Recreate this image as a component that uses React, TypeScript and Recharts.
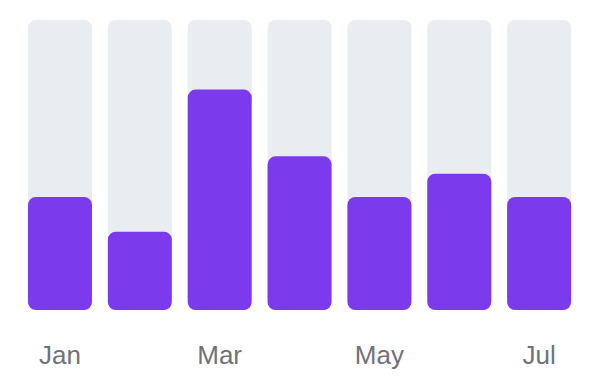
import { BarChart, Bar, XAxis, YAxis } from "recharts";

const months = ["Jan", "Feb", "Mar", "Apr", "May", "Jun", "Jul"];
const values = [39, 27, 76, 53, 39, 47, 39];

const data = months.map((month, i) => ({ month, value: values[i] }));

export default function App() {
  return (
    <div style={{ position: "absolute", left: 0, top: 0, width: 600, height: 389, background: "#fff" }}>
      <BarChart
        width={600}
        height={389}
        data={data}
        margin={{ top: 20, right: 21, left: 20, bottom: 0 }}
        barCategoryGap="10%"
      >
        <YAxis hide domain={[0, 100]} />
        <XAxis
          dataKey="month"
          axisLine={false}
          tickLine={false}
          tickSize={0}
          tickMargin={36}
          height={79}
          interval={1}
          tick={{ fill: "#71717A", fontSize: 26, fontFamily: "Liberation Sans, Arial, sans-serif" }}
        />
        <Bar
          dataKey="value"
          fill="#7C3AED"
          radius={8}
          background={{ fill: "#E9ECF1", radius: 8 }}
          isAnimationActive={false}
        />
      </BarChart>
    </div>
  );
}
